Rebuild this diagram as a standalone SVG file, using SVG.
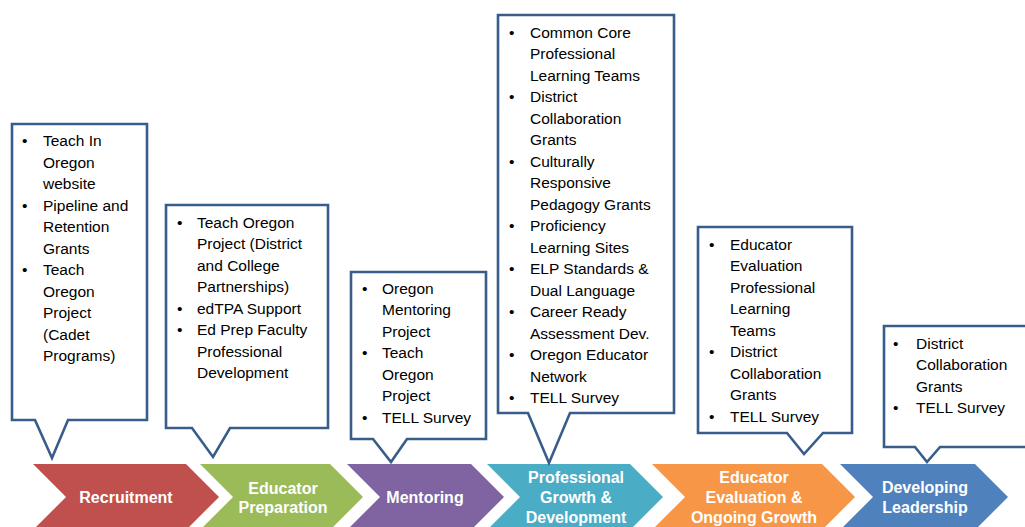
<svg xmlns="http://www.w3.org/2000/svg" width="1025" height="527" viewBox="0 0 1025 527">
  <style>
    .callout { fill: #ffffff; stroke: #385D8A; stroke-width: 2.6; stroke-linejoin: miter; }
    .item { font-family: "Liberation Sans", Arial, sans-serif; font-size: 15.5px; fill: #000000; }
    .stage { stroke: none; }
    .label { font-family: "Liberation Sans", Arial, sans-serif; font-size: 16px; font-weight: bold; fill: #ffffff; text-anchor: middle; }
  </style>

  <rect x="0" y="0" width="1025" height="527" fill="#ffffff"/>

  <!-- Recruitment -->
  <g id="recruitment">
    <polygon class="stage" fill="#C0504D" points="33,464 186,464 219,497 186,530 33,530 66,497"/>
    <text class="label" x="126" y="503">Recruitment</text>
    <path class="callout" d="M12,124 H147 V420 H68 L52,458 L35,420 H12 Z"/>
    <text class="item" y="146">
      <tspan x="22">•</tspan><tspan x="43">Teach In</tspan>
      <tspan x="43" dy="21.5">Oregon</tspan>
      <tspan x="43" dy="21.5">website</tspan>
      <tspan x="22" dy="21.5">•</tspan><tspan x="43">Pipeline and</tspan>
      <tspan x="43" dy="21.5">Retention</tspan>
      <tspan x="43" dy="21.5">Grants</tspan>
      <tspan x="22" dy="21.5">•</tspan><tspan x="43">Teach</tspan>
      <tspan x="43" dy="21.5">Oregon</tspan>
      <tspan x="43" dy="21.5">Project</tspan>
      <tspan x="43" dy="21.5">(Cadet</tspan>
      <tspan x="43" dy="21.5">Programs)</tspan>
    </text>
  </g>

  <!-- Educator Preparation -->
  <g id="educator-preparation">
    <polygon class="stage" fill="#9BBB59" points="200,464 330,464 363,497 330,530 200,530 233,497"/>
    <text class="label" x="283" y="494">Educator</text>
    <text class="label" x="283" y="513">Preparation</text>
    <path class="callout" d="M166,205 H328 V428 H230 L213,457 L192,428 H166 Z"/>
    <text class="item" y="227.5">
      <tspan x="177">•</tspan><tspan x="197">Teach Oregon</tspan>
      <tspan x="197" dy="21.5">Project (District</tspan>
      <tspan x="197" dy="21.5">and College</tspan>
      <tspan x="197" dy="21.5">Partnerships)</tspan>
      <tspan x="177" dy="21.5">•</tspan><tspan x="197">edTPA Support</tspan>
      <tspan x="177" dy="21.5">•</tspan><tspan x="197">Ed Prep Faculty</tspan>
      <tspan x="197" dy="21.5">Professional</tspan>
      <tspan x="197" dy="21.5">Development</tspan>
    </text>
  </g>

  <!-- Mentoring -->
  <g id="mentoring">
    <polygon class="stage" fill="#8064A2" points="347,464 471,464 504,497 471,530 347,530 380,497"/>
    <text class="label" x="425" y="503">Mentoring</text>
    <path class="callout" d="M351,272 H486 V439 H407 L391,462 L373,439 H351 Z"/>
    <text class="item" y="293.5">
      <tspan x="362">•</tspan><tspan x="382">Oregon</tspan>
      <tspan x="382" dy="21.5">Mentoring</tspan>
      <tspan x="382" dy="21.5">Project</tspan>
      <tspan x="362" dy="21.5">•</tspan><tspan x="382">Teach</tspan>
      <tspan x="382" dy="21.5">Oregon</tspan>
      <tspan x="382" dy="21.5">Project</tspan>
      <tspan x="362" dy="21.5">•</tspan><tspan x="382">TELL Survey</tspan>
    </text>
  </g>

  <!-- Professional Growth & Development -->
  <g id="professional-growth">
    <polygon class="stage" fill="#4BACC6" points="487,464 630,464 663,497 630,530 487,530 520,497"/>
    <text class="label" x="576" y="483">Professional</text>
    <text class="label" x="576" y="503">Growth &amp;</text>
    <text class="label" x="576" y="523">Development</text>
    <path class="callout" d="M498,15 H674 V413 H570 L549,463 L528,413 H498 Z"/>
    <text class="item" y="37.5">
      <tspan x="509">•</tspan><tspan x="530">Common Core</tspan>
      <tspan x="530" dy="21.5">Professional</tspan>
      <tspan x="530" dy="21.5">Learning Teams</tspan>
      <tspan x="509" dy="21.5">•</tspan><tspan x="530">District</tspan>
      <tspan x="530" dy="21.5">Collaboration</tspan>
      <tspan x="530" dy="21.5">Grants</tspan>
      <tspan x="509" dy="21.5">•</tspan><tspan x="530">Culturally</tspan>
      <tspan x="530" dy="21.5">Responsive</tspan>
      <tspan x="530" dy="21.5">Pedagogy Grants</tspan>
      <tspan x="509" dy="21.5">•</tspan><tspan x="530">Proficiency</tspan>
      <tspan x="530" dy="21.5">Learning Sites</tspan>
      <tspan x="509" dy="21.5">•</tspan><tspan x="530">ELP Standards &amp;</tspan>
      <tspan x="530" dy="21.5">Dual Language</tspan>
      <tspan x="509" dy="21.5">•</tspan><tspan x="530">Career Ready</tspan>
      <tspan x="530" dy="21.5">Assessment Dev.</tspan>
      <tspan x="509" dy="21.5">•</tspan><tspan x="530">Oregon Educator</tspan>
      <tspan x="530" dy="21.5">Network</tspan>
      <tspan x="509" dy="21.5">•</tspan><tspan x="530">TELL Survey</tspan>
    </text>
  </g>

  <!-- Educator Evaluation & Ongoing Growth -->
  <g id="educator-evaluation">
    <polygon class="stage" fill="#F79646" points="652,464 822,464 855,497 822,530 652,530 685,497"/>
    <text class="label" x="754" y="483">Educator</text>
    <text class="label" x="754" y="503">Evaluation &amp;</text>
    <text class="label" x="754" y="523">Ongoing Growth</text>
    <path class="callout" d="M698,227 H852 V433 H823 L804,454 L787,433 H698 Z"/>
    <text class="item" y="249.5">
      <tspan x="709">•</tspan><tspan x="730">Educator</tspan>
      <tspan x="730" dy="21.5">Evaluation</tspan>
      <tspan x="730" dy="21.5">Professional</tspan>
      <tspan x="730" dy="21.5">Learning</tspan>
      <tspan x="730" dy="21.5">Teams</tspan>
      <tspan x="709" dy="21.5">•</tspan><tspan x="730">District</tspan>
      <tspan x="730" dy="21.5">Collaboration</tspan>
      <tspan x="730" dy="21.5">Grants</tspan>
      <tspan x="709" dy="21.5">•</tspan><tspan x="730">TELL Survey</tspan>
    </text>
  </g>

  <!-- Developing Leadership -->
  <g id="developing-leadership">
    <polygon class="stage" fill="#4F81BD" points="840,464 975,464 1008,497 975,530 840,530 873,497"/>
    <text class="label" x="925" y="493">Developing</text>
    <text class="label" x="925" y="513">Leadership</text>
    <path class="callout" d="M884,326 H1032 V447 H940 L927,462 L915,447 H884 Z"/>
    <text class="item" y="348.5">
      <tspan x="893">•</tspan><tspan x="916">District</tspan>
      <tspan x="916" dy="21.5">Collaboration</tspan>
      <tspan x="916" dy="21.5">Grants</tspan>
      <tspan x="893" dy="21.5">•</tspan><tspan x="916">TELL Survey</tspan>
    </text>
  </g>
</svg>
